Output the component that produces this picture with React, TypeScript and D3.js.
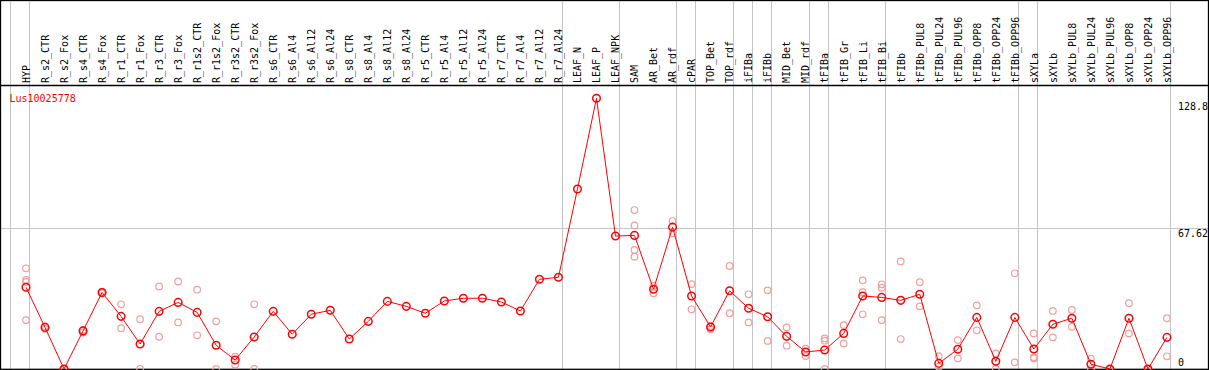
import React, { useEffect, useRef } from "react"
import * as d3 from "d3"

const categories = [
  "HYP",
  "R_s2_CTR", "R_s2_Fox", "R_s4_CTR", "R_s4_Fox", "R_r1_CTR", "R_r1_Fox",
  "R_r3_CTR", "R_r3_Fox", "R_r1s2_CTR", "R_r1s2_Fox", "R_r3s2_CTR", "R_r3s2_Fox",
  "R_s6_CTR", "R_s6_Al4", "R_s6_Al12", "R_s6_Al24",
  "R_s8_CTR", "R_s8_Al4", "R_s8_Al12", "R_s8_Al24",
  "R_r5_CTR", "R_r5_Al4", "R_r5_Al12", "R_r5_Al24",
  "R_r7_CTR", "R_r7_Al4", "R_r7_Al12", "R_r7_Al24",
  "LEAF_N", "LEAF_P", "LEAF_NPK",
  "SAM", "AR_Bet", "AR_rdf", "cPAR", "TOP_Bet", "TOP_rdf",
  "iFIBa", "iFIBb", "MID_Bet", "MID_rdf",
  "tFIBa", "tFIB_Gr", "tFIB_Li", "tFIB_Bi",
  "tFIBb", "tFIBb_PUL8", "tFIBb_PUL24", "tFIBb_PUL96", "tFIBb_OPP8", "tFIBb_OPP24", "tFIBb_OPP96",
  "sXYLa", "sXYLb", "sXYLb_PUL8", "sXYLb_PUL24", "sXYLb_PUL96", "sXYLb_OPP8", "sXYLb_OPP24", "sXYLb_OPP96",
]

// mean expression per sample
const means = [
  39.3,
  20.0, 0, 18.3, 36.8, 25.3, 12.0,
  27.7, 32.0, 27.2, 11.4, 4.3, 15.4,
  27.7, 16.7, 26.3, 28.2,
  14.4, 22.9, 32.5, 30.1,
  26.8, 32.7, 34.0, 34.0,
  32.2, 27.9, 43.1, 44.1,
  86.5, 130.1, 63.9,
  64.2, 38.3, 68.2, 35.1, 20.2, 37.6,
  29.2, 25.1, 15.7, 8.2,
  9.1, 17.1, 35.1, 34.4,
  33.0, 35.9, 2.7, 9.5, 24.8, 3.7, 24.8,
  9.6, 21.5, 24.4, 2.3, 0, 24.4, 0, 15.2,
]

// individual replicates per sample
const replicates = [
  [48.4, 42.8, 41.8, 23.5],
  [20.5, 19.3], [0, 0], [18.8, 17.6], [37.2, 36.4], [31.1, 19.6], [23.9, 0],
  [39.7, 15.5], [42.1, 22.4], [38.1, 16.2], [22.9, 0], [5.9, 2.1], [31.1, 0],
  [], [], [], [],
  [], [], [], [],
  [], [], [], [],
  [], [], [], [],
  [], [], [],
  [76.4, 69.0, 57.2, 54.0], [39.9, 36.4], [71.1, 65.2], [40.8, 28.7], [19.1, 20.7], [49.5, 26.8],
  [35.9, 22.4], [37.8, 13.5], [20.0, 11.2], [9.8, 6.2],
  [14.7, 13.6, 0], [21.1, 12.3], [42.6, 36.9, 26.3], [40.7, 39.1, 23.5],
  [51.7, 14.4], [41.7, 30.1], [6.2, 1.1], [13.9, 5.1], [30.6, 18.6], [7.5, 0], [46.0, 3.2],
  [17.1, 5.6, 5.1], [27.9, 15.2], [28.4, 20.3], [5.0, 0], [0, 0], [31.6, 17.1], [0, 0], [24.4, 6.1],
]

// last sample of each group (a divider is drawn after it)
const groupEnds = [
  "HYP", "R_r7_Al24", "LEAF_NPK", "AR_rdf", "cPAR", "TOP_rdf", "iFIBa", "iFIBb",
  "MID_rdf", "tFIBa", "tFIB_Bi", "tFIBb_OPP96", "sXYLa", "sXYLb_OPP96",
]

const tickValues = [0, 67.62, 128.8]
const geneName = "Lus10025778"

const W = 1209
const H = 370

export default function App() {
  const ref = useRef<SVGSVGElement>(null)

  useEffect(() => {
    const svg = d3.select(ref.current)
    svg.selectAll("*").remove()

    const step = 19.016
    const x = d3
      .scaleLinear()
      .domain([0, categories.length - 1])
      .range([26, 26 + step * (categories.length - 1)])
    const y = d3.scaleLinear().domain([0, 67.62]).range([369, 228.3])
    const font = "'DejaVu Sans Mono', monospace"

    svg.append("rect")
      .attr("width", W).attr("height", H).attr("fill", "#fff")

    // horizontal grid
    svg.append("line")
      .attr("x1", 0).attr("x2", W)
      .attr("y1", Math.round(y(67.62)) + 0.5).attr("y2", Math.round(y(67.62)) + 0.5)
      .attr("stroke", "#c4c4c4")

    // group dividers
    const divX = [-1, ...groupEnds.map(g => categories.indexOf(g))]
    svg.append("g")
      .selectAll("line")
      .data(divX)
      .enter()
      .append("line")
      .attr("x1", d => Math.floor(x(d) + 3.8) + 0.5)
      .attr("x2", d => Math.floor(x(d) + 3.8) + 0.5)
      .attr("y1", 0)
      .attr("y2", 369)
      .attr("stroke", "#c4c4c4")

    // sample labels
    svg.append("g")
      .selectAll("text")
      .data(categories)
      .enter()
      .append("text")
      .attr("transform", (d, i) => `translate(${x(i)},83) rotate(-90)`)
      .attr("dy", "0.38em")
      .attr("font-family", font)
      .attr("font-size", 10)
      .attr("fill", "#000")
      .text(d => d)

    // header divider + frame
    svg.append("line")
      .attr("x1", 0).attr("x2", W).attr("y1", 85.5).attr("y2", 85.5)
      .attr("stroke", "#000").attr("stroke-width", 1.3)
    svg.append("rect")
      .attr("x", 0.5).attr("y", 0.5).attr("width", 1208).attr("height", 368.8)
      .attr("fill", "none").attr("stroke", "#000").attr("stroke-width", 1.3)

    // y tick labels
    svg.append("g")
      .selectAll("text")
      .data(tickValues)
      .enter()
      .append("text")
      .attr("x", 1178)
      .attr("y", d => (d === 0 ? y(d) - 3 : y(d) + 8.5))
      .attr("font-family", font)
      .attr("font-size", 10)
      .attr("fill", "#000")
      .text(d => String(d))

    svg.append("text")
      .attr("x", 9.5).attr("y", 101.5)
      .attr("font-family", font).attr("font-size", 10)
      .attr("fill", "#ff0000")
      .text(geneName)

    // replicates
    const repPts: [number, number][] = []
    replicates.forEach((reps, i) => reps.forEach(v => repPts.push([i, v])))
    svg.append("g")
      .selectAll("circle")
      .data(repPts)
      .enter()
      .append("circle")
      .attr("cx", d => x(d[0]))
      .attr("cy", d => y(d[1]))
      .attr("r", 3.3)
      .attr("fill", "none")
      .attr("stroke", "#f0a0a0")
      .attr("stroke-width", 1.2)

    // mean line
    const line = d3.line<number>().x((d, i) => x(i)).y(d => y(d))
    svg.append("path")
      .attr("d", line(means))
      .attr("fill", "none")
      .attr("stroke", "#ff0000")
      .attr("stroke-width", 1)

    svg.append("g")
      .selectAll("circle")
      .data(means)
      .enter()
      .append("circle")
      .attr("cx", (d, i) => x(i))
      .attr("cy", d => y(d))
      .attr("r", 3.8)
      .attr("fill", "none")
      .attr("stroke", "#ff0000")
      .attr("stroke-width", 1.5)
  }, [])

  return (
    <svg
      ref={ref}
      width={W}
      height={H}
      style={{ position: "absolute", left: 0, top: 0, display: "block" }}
    />
  )
}
